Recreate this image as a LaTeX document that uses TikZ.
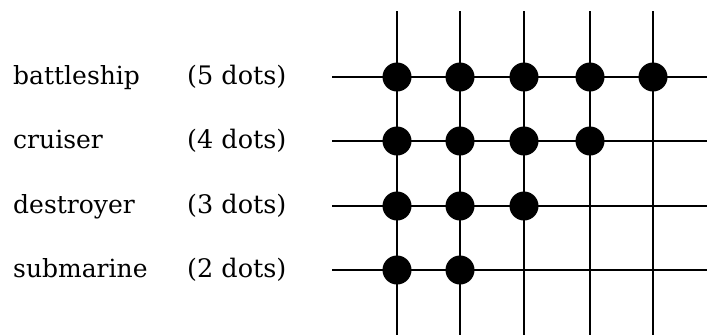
\documentclass[tikz,border=0pt]{standalone}
\usepackage{fontspec}
\setmainfont{DejaVu Serif}
\begin{document}
\begin{tikzpicture}[x=1pt,y=-1pt,
  gridline/.style={line width=1.6pt,black},
  peg/.style={circle,fill=black,inner sep=0pt,minimum size=29pt},
  shipname/.style={anchor=base west,inner sep=0pt,font=\fontsize{25}{28}\selectfont},
  shipsize/.style={anchor=base west,inner sep=0pt,font=\fontsize{25.5}{28}\selectfont}]
\useasboundingbox (0,0) rectangle (707,335);
% column and row positions
\def\colA{397}\def\colB{460}\def\colC{524}\def\colD{590}\def\colE{653}
% vertical grid lines
\foreach \c/\x in {a/\colA,b/\colB,c/\colC,d/\colD,e/\colE}{
  \coordinate (top\c) at (\x,11);
  \coordinate (bot\c) at (\x,335);
  \draw[gridline] (top\c) -- (bot\c);
}
% horizontal grid lines
\foreach \r/\y in {1/77,2/141,3/206,4/270}{
  \coordinate (left\r) at (332,\y);
  \coordinate (right\r) at (707,\y);
  \draw[gridline] (left\r) -- (right\r);
}
% labels
\node[shipname] (n1) at (13,84) {battleship};
\node[shipname] (n2) at (13,148) {cruiser};
\node[shipname] (n3) at (13,213) {destroyer};
\node[shipname] (n4) at (13,277) {submarine};
\node[shipsize] (s1) at (187,84) {(5 dots)};
\node[shipsize] (s2) at (187,148) {(4 dots)};
\node[shipsize] (s3) at (187,213) {(3 dots)};
\node[shipsize] (s4) at (187,277) {(2 dots)};
% pegs
\foreach \x [count=\i] in {\colA,\colB,\colC,\colD,\colE} \node[peg] (p1\i) at (\x,77) {};
\foreach \x [count=\i] in {\colA,\colB,\colC,\colD} \node[peg] (p2\i) at (\x,141) {};
\foreach \x [count=\i] in {\colA,\colB,\colC} \node[peg] (p3\i) at (\x,206) {};
\foreach \x [count=\i] in {\colA,\colB} \node[peg] (p4\i) at (\x,270) {};
\end{tikzpicture}
\end{document}
